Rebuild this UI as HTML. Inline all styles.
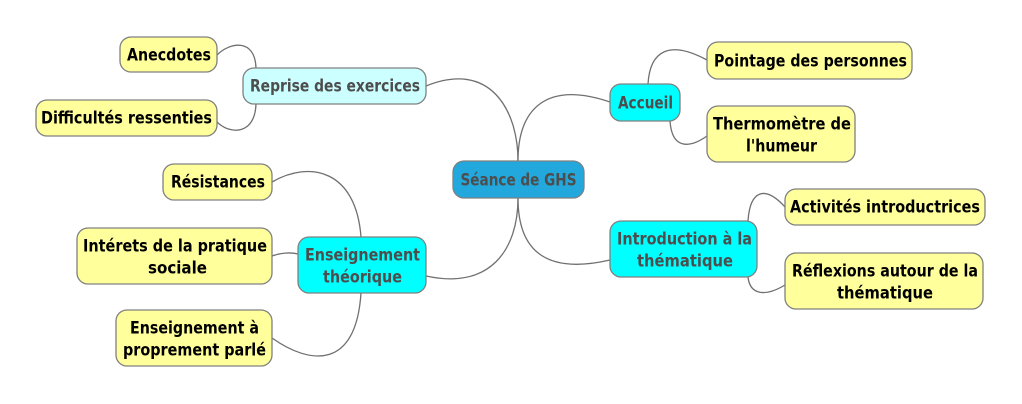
<!DOCTYPE html>
<html><head><meta charset="utf-8"><style>
html,body{margin:0;padding:0;background:#fff;}
svg{display:block;}
text{font-family:"DejaVu Sans","Liberation Sans",sans-serif;font-weight:bold;font-size:16.5px;text-anchor:middle;}
.m{fill:#4d4d4d;}
.l{fill:#000;}
rect{stroke:#808080;stroke-width:1.3;}
path{fill:none;stroke:#707070;stroke-width:1.3;}
</style></head><body>
<svg width="1022" height="404" viewBox="0 0 1022 404">
<path d="M518,161 C518,110 490,60 426,86"/>
<path d="M518,161 C518,110 545,80 610,102"/>
<path d="M518,198 C518,250 490,290 426,276"/>
<path d="M518,198 C518,250 545,275 610,260"/>
<path d="M217,55 C230,42 255,38 256,68"/>
<path d="M217,122 C230,135 255,135 256,104"/>
<path d="M648,84 C650,50 670,40 707,60"/>
<path d="M670,121 C672,150 690,148 707,136"/>
<path d="M361,237 C356,170 310,160 272,182"/>
<path d="M298,254 C290,252 280,253 272,256"/>
<path d="M361,293 C356,370 310,365 272,338"/>
<path d="M748,221 C750,190 765,185 785,207"/>
<path d="M748,277 C750,295 765,297 785,285"/>
<rect x="453" y="161" width="131" height="37" rx="11" fill="#22a8dd"/>
<text class="m" x="518.5" y="185.5" textLength="116" lengthAdjust="spacingAndGlyphs">Séance de GHS</text>
<rect x="243" y="68" width="183" height="36" rx="11" fill="#ccffff"/>
<text class="m" x="335" y="91.5" textLength="170" lengthAdjust="spacingAndGlyphs">Reprise des exercices</text>
<rect x="610" y="84" width="70" height="37" rx="11" fill="#00ffff"/>
<text class="m" x="645.5" y="108.5" textLength="55" lengthAdjust="spacingAndGlyphs">Accueil</text>
<rect x="298" y="237" width="128" height="56" rx="11" fill="#00ffff"/>
<text class="m" x="362.5" y="260.5" textLength="115" lengthAdjust="spacingAndGlyphs">Enseignement</text>
<text class="m" x="362.5" y="282.5" textLength="79" lengthAdjust="spacingAndGlyphs">théorique</text>
<rect x="610" y="221" width="147" height="56" rx="11" fill="#00ffff"/>
<text class="m" x="684.5" y="244.5" textLength="135" lengthAdjust="spacingAndGlyphs">Introduction à la</text>
<text class="m" x="685" y="266.5" textLength="96" lengthAdjust="spacingAndGlyphs">thématique</text>
<rect x="120" y="37" width="97" height="35" rx="11" fill="#ffff9c"/>
<text class="l" x="169" y="60.5" textLength="84" lengthAdjust="spacingAndGlyphs">Anecdotes</text>
<rect x="36" y="100" width="181" height="36" rx="11" fill="#ffff9c"/>
<text class="l" x="126.5" y="123.5" textLength="171" lengthAdjust="spacingAndGlyphs">Difficultés ressenties</text>
<rect x="707" y="42" width="205" height="37" rx="11" fill="#ffff9c"/>
<text class="l" x="810.5" y="66.5" textLength="193" lengthAdjust="spacingAndGlyphs">Pointage des personnes</text>
<rect x="707" y="106" width="148" height="56" rx="11" fill="#ffff9c"/>
<text class="l" x="782" y="129.5" textLength="138" lengthAdjust="spacingAndGlyphs">Thermomètre de</text>
<text class="l" x="781.5" y="151.5" textLength="71" lengthAdjust="spacingAndGlyphs">l'humeur</text>
<rect x="163" y="164" width="109" height="36" rx="11" fill="#ffff9c"/>
<text class="l" x="218" y="187.5" textLength="94" lengthAdjust="spacingAndGlyphs">Résistances</text>
<rect x="77" y="228" width="195" height="56" rx="11" fill="#ffff9c"/>
<text class="l" x="175" y="251.5" textLength="184" lengthAdjust="spacingAndGlyphs">Intérets de la pratique</text>
<text class="l" x="177.5" y="273.5" textLength="59" lengthAdjust="spacingAndGlyphs">sociale</text>
<rect x="116" y="310" width="156" height="56" rx="11" fill="#ffff9c"/>
<text class="l" x="194.5" y="333.5" textLength="129" lengthAdjust="spacingAndGlyphs">Enseignement à</text>
<text class="l" x="194.5" y="355.5" textLength="143" lengthAdjust="spacingAndGlyphs">proprement parlé</text>
<rect x="785" y="189" width="200" height="36" rx="11" fill="#ffff9c"/>
<text class="l" x="885" y="212.5" textLength="190" lengthAdjust="spacingAndGlyphs">Activités introductrices</text>
<rect x="785" y="253" width="198" height="56" rx="11" fill="#ffff9c"/>
<text class="l" x="885" y="276.5" textLength="186" lengthAdjust="spacingAndGlyphs">Réflexions autour de la</text>
<text class="l" x="885" y="298.5" textLength="96" lengthAdjust="spacingAndGlyphs">thématique</text>
</svg>
</body></html>
